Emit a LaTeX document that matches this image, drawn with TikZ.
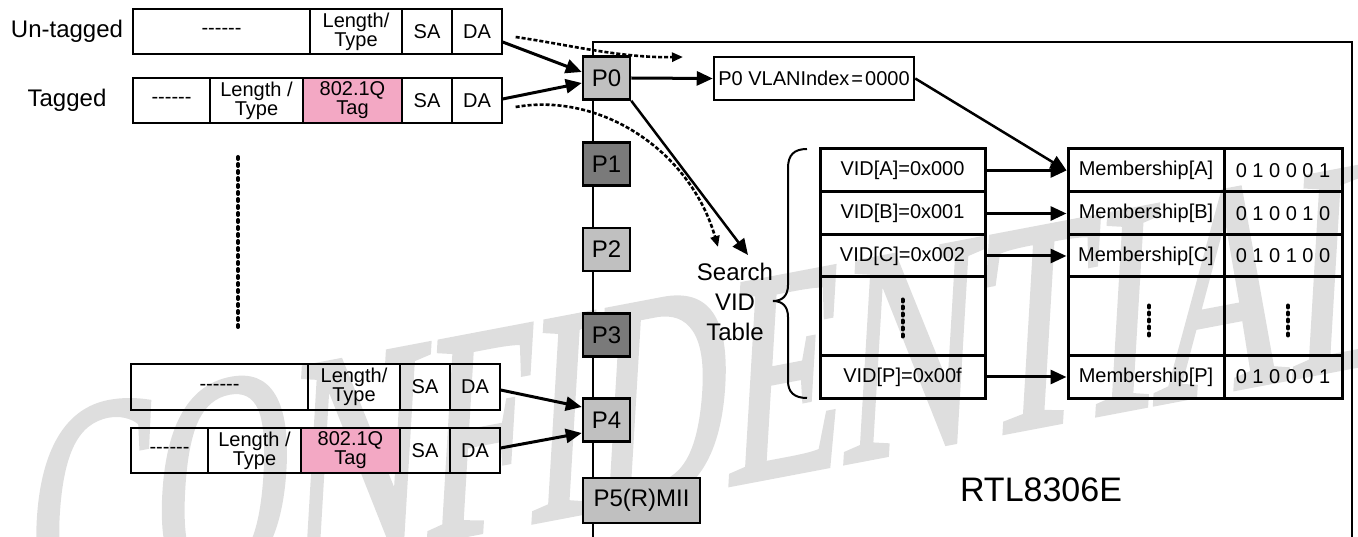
\documentclass[tikz,border=0pt]{standalone}
\usepackage{fontspec}
\setmainfont{Liberation Sans}
\newfontfamily\wmserif[FakeBold=2]{Liberation Serif}
\usetikzlibrary{arrows.meta}
\definecolor{tagpink}{RGB}{243,168,196}
\definecolor{portlight}{RGB}{192,192,192}
\definecolor{portdark}{RGB}{122,122,122}
\definecolor{wmgray}{RGB}{222,222,222}
\newcommand\fillerdash{-{}-{}-{}-{}-{}-}
\begin{document}
\begin{tikzpicture}[x=1pt,y=-1pt,
  fcell/.style={draw, line width=1.3pt, inner sep=0pt, align=center, font=\fontsize{20}{19}\selectfont},
  tcell/.style={draw, line width=3pt, inner sep=0pt, font=\fontsize{20}{20}\selectfont},
  port/.style={draw, line width=2.5pt, fill=portlight, inner sep=0pt, minimum width=47pt, minimum height=43pt, font=\fontsize{24}{24}\selectfont},
  darkport/.style={port, fill=portdark},
  txt/.style={inner sep=0pt, align=center, font=\fontsize{24}{30}\selectfont},
  flow/.style={line width=3pt, -{Triangle[length=16pt,width=14pt]}},
  hint/.style={line width=2.6pt, dash pattern=on 4pt off 2pt, -{Triangle[length=11pt,width=9pt]}},
  dots/.style={line width=4pt, line cap=round, dash pattern=on 2pt off 5pt},
]
\useasboundingbox (0,0) rectangle (1358,537);

% watermark lettering behind everything
\begin{scope}
  \clip (0,0) rectangle (1358,537);
  \begin{scope}[shift={(25,618)}, yslant=0.19, xslant=0.06, yscale=1.6]
    \node[anchor=base west, inner sep=0pt, transform shape, text=wmgray,
          font=\wmserif\fontsize{188}{188}\selectfont] (wm) at (0,0) {CONFIDENTIAL};
  \end{scope}
\end{scope}

% switch outline with the port bus on its left edge
\draw[line width=2.5pt] (593,537) -- (593,42) -- (1352,42) -- (1352,537);

% incoming frames at P0
\node[txt] (lu) at (67,31.5) {Un-tagged};
\node[fcell, minimum width=177pt, minimum height=45pt] (u1) at (221.5,31.5) {\fillerdash};
\node[fcell, minimum width=92pt, minimum height=45pt] (uLT) at (356,31.5) {Length/\\Type};
\node[fcell, minimum width=50pt, minimum height=45pt] (uSA) at (427,31.5) {SA};
\node[fcell, minimum width=50pt, minimum height=45pt] (uDA) at (477,31.5) {DA};

\node[txt] (lt) at (67,100.5) {Tagged};
\node[fcell, minimum width=77pt, minimum height=45pt] (t1) at (171.5,100.5) {\fillerdash};
\node[fcell, minimum width=93pt, minimum height=45pt] (tLT) at (256.5,100.5) {Length /\\Type};
\node[fcell, fill=tagpink, minimum width=99pt, minimum height=45pt] (tTag) at (352.5,100.5) {802.1Q\\Tag};
\node[fcell, minimum width=50pt, minimum height=45pt] (tSA) at (427,100.5) {SA};
\node[fcell, minimum width=50pt, minimum height=45pt] (tDA) at (477,100.5) {DA};

% incoming frames at P4
\node[fcell, minimum width=177pt, minimum height=46pt] (lu1) at (219.5,387) {\fillerdash};
\node[fcell, minimum width=92pt, minimum height=46pt] (luLT) at (354,387) {Length/\\Type};
\node[fcell, minimum width=50pt, minimum height=46pt] (luSA) at (425,387) {SA};
\node[fcell, minimum width=50pt, minimum height=46pt] (luDA) at (475,387) {DA};

\node[fcell, minimum width=77pt, minimum height=45pt] (lt1) at (169.5,450.5) {\fillerdash};
\node[fcell, minimum width=93pt, minimum height=45pt] (ltLT) at (254.5,450.5) {Length /\\Type};
\node[fcell, fill=tagpink, minimum width=99pt, minimum height=45pt] (ltTag) at (350.5,450.5) {802.1Q\\Tag};
\node[fcell, minimum width=50pt, minimum height=45pt] (ltSA) at (425,450.5) {SA};
\node[fcell, minimum width=50pt, minimum height=45pt] (ltDA) at (475,450.5) {DA};

% more frames in between
\draw[dots] (238,157) -- (238,331);

% ports
\node[port] (p0) at (606.5,78) {P0};
\node[darkport] (p1) at (606.5,164) {P1};
\node[port] (p2) at (606.5,249.5) {P2};
\node[darkport] (p3) at (606.5,335) {P3};
\node[port] (p4) at (606.5,420) {P4};
\node[port, minimum width=117pt, minimum height=45pt] (p5) at (641.5,500.5) {P5(R)MII};

% port VLAN index
\node[draw, line width=2.5pt, inner sep=0pt, minimum width=200pt, minimum height=43pt,
      font=\fontsize{20}{20}\selectfont] (vlan) at (814,78.5) {P0 VLANIndex\hspace{2pt}=\hspace{2pt}0000};

% VID table
\node[tcell, minimum width=165pt, minimum height=43pt] (vidA) at (902.5,170.5) {VID[A]=0x000};
\node[tcell, minimum width=165pt, minimum height=43pt] (vidB) at (902.5,213.5) {VID[B]=0x001};
\node[tcell, minimum width=165pt, minimum height=42pt] (vidC) at (902.5,256) {VID[C]=0x002};
\node[tcell, minimum width=165pt, minimum height=79pt] (vidD) at (902.5,316.5) {};
\node[tcell, minimum width=165pt, minimum height=42pt] (vidP) at (902.5,377) {VID[P]=0x00f};

\node[tcell, minimum width=156pt, minimum height=43pt] (memA) at (1146,170.5) {Membership[A]};
\node[tcell, minimum width=156pt, minimum height=43pt] (memB) at (1146,213.5) {Membership[B]};
\node[tcell, minimum width=156pt, minimum height=42pt] (memC) at (1146,256) {Membership[C]};
\node[tcell, minimum width=156pt, minimum height=79pt] (memD) at (1146,316.5) {};
\node[tcell, minimum width=156pt, minimum height=42pt] (memP) at (1146,377) {Membership[P]};

\node[tcell, minimum width=118pt, minimum height=43pt] (bitA) at (1283,170.5) {0 1 0 0 0 1};
\node[tcell, minimum width=118pt, minimum height=43pt] (bitB) at (1283,213.5) {0 1 0 0 1 0};
\node[tcell, minimum width=118pt, minimum height=42pt] (bitC) at (1283,256) {0 1 0 1 0 0};
\node[tcell, minimum width=118pt, minimum height=79pt] (bitD) at (1283,316.5) {};
\node[tcell, minimum width=118pt, minimum height=42pt] (bitP) at (1283,377) {0 1 0 0 0 1};

\draw[dots] ([yshift=17pt]vidD.center) -- ([yshift=-22pt]vidD.center);
\draw[dots] ([xshift=3pt,yshift=11pt]memD.center) -- ([xshift=3pt,yshift=-20pt]memD.center);
\draw[dots] ([xshift=5pt,yshift=11pt]bitD.center) -- ([xshift=5pt,yshift=-20pt]bitD.center);

% brace and its caption
\node[txt] (search) at (735,302) {Search\\VID\\Table};
\draw[line width=2pt] (807,149) .. controls (794,149) and (788,155) .. (788,168)
  -- (788,285) .. controls (788,296) and (782,301) .. (773,301)
  .. controls (782,301) and (788,306) .. (788,317)
  -- (788,381) .. controls (788,392) and (794,398) .. (807,398);

\node[font=\fontsize{34}{34}\selectfont, inner sep=0pt] (chip) at (1041,490) {RTL8306E};

% arrow end points above the caption
\coordinate (stA) at (748,255);
\coordinate (stB) at (718,247);
\coordinate (hintEnd) at (683,57);

% frame flow into the ports
\draw[flow] ([yshift=-10.5pt]uDA.east) -- ([yshift=6pt]p0.west);
\draw[flow] ([yshift=1.5pt]tDA.east) -- ([yshift=-5pt]p0.west);
\draw[flow] ([yshift=-3pt]luDA.east) -- ([yshift=13pt]p4.west);
\draw[flow] ([yshift=2.5pt]ltDA.east) -- ([yshift=-13pt]p4.west);

% lookup paths
\draw[hint] ([xshift=13pt,yshift=-5.5pt]uDA.east) .. controls (570,45) and (620,58) .. (hintEnd);
\draw[hint] ([xshift=13pt,yshift=-6.5pt]tDA.east) .. controls (600,92) and (690,150) .. (stB);
\draw[flow] (p0.east) -- (vlan.west);
\draw[flow, line width=2.5pt] (p0.south east) -- (stA);
\draw[flow, line width=2.5pt] (vlan.east) -- (memA.west);
\draw[flow] (vidA.east) -- (memA.west);
\draw[flow] (vidB.east) -- (memB.west);
\draw[flow] (vidC.east) -- (memC.west);
\draw[flow] (vidP.east) -- (memP.west);
\end{tikzpicture}
\end{document}
